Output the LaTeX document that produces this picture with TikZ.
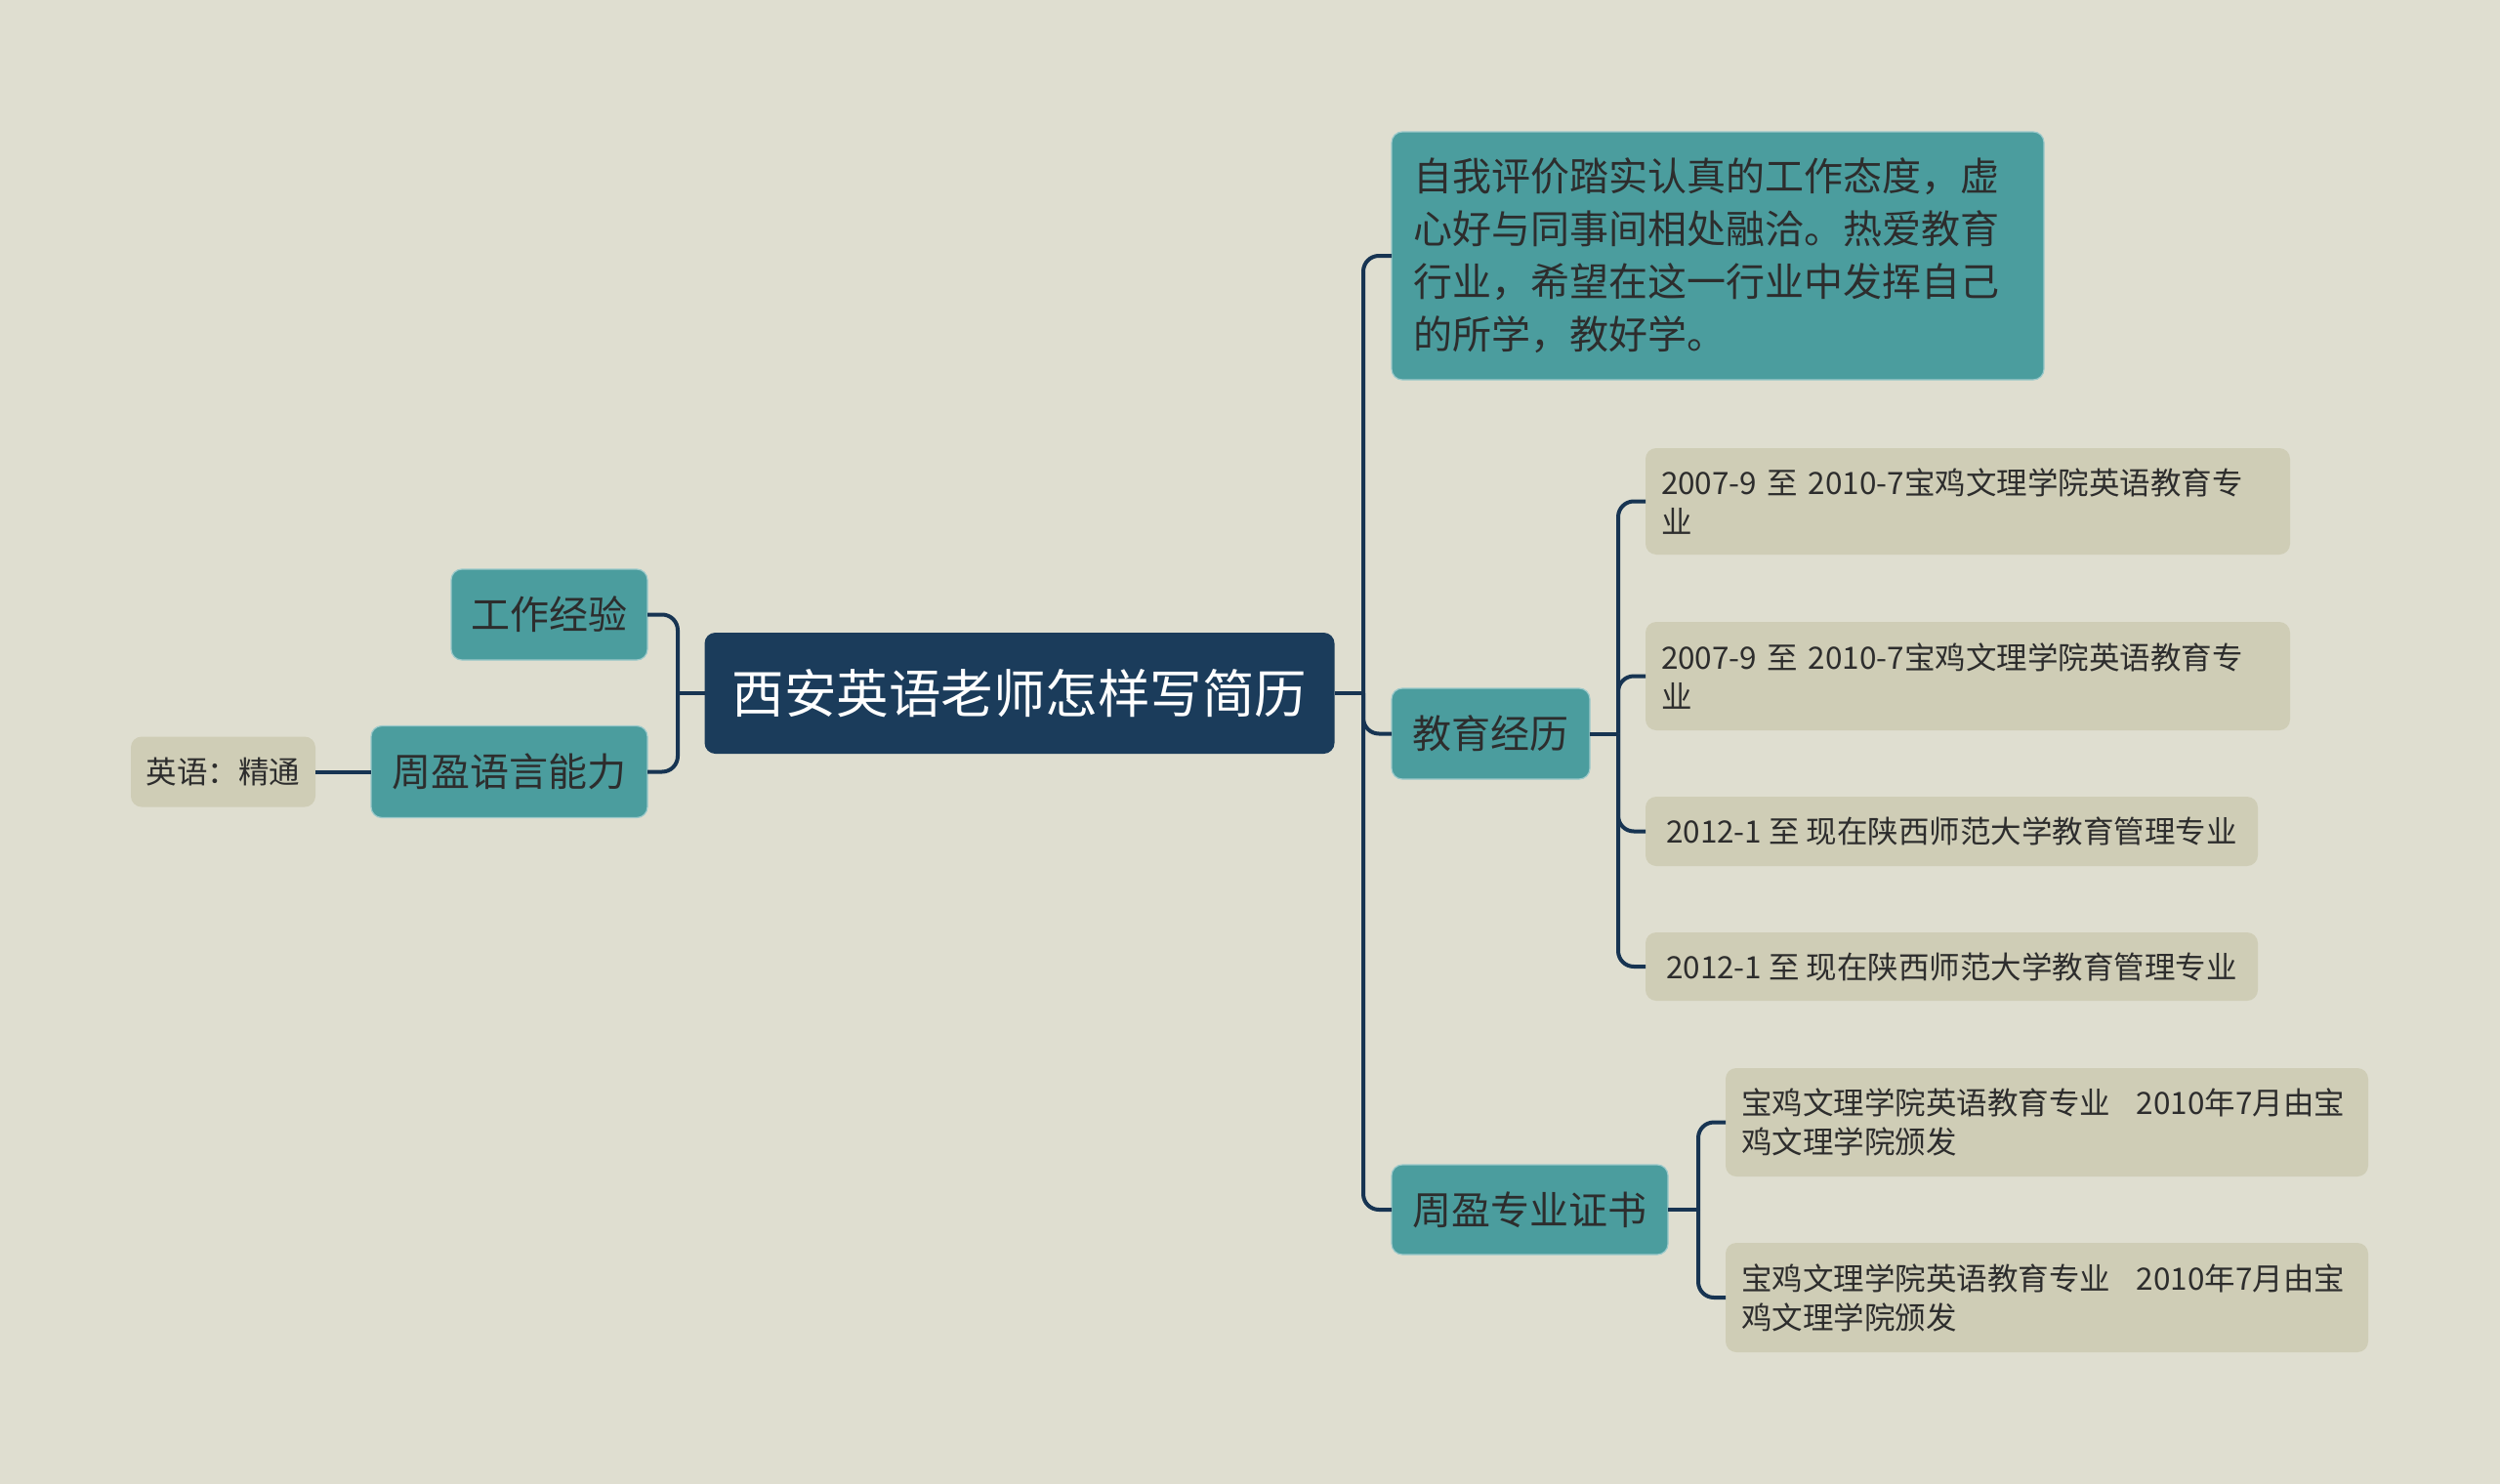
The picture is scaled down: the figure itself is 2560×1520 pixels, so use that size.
\documentclass[tikz,border=0pt]{standalone}
\usepackage{fontspec}
\setmainfont{Noto Sans CJK SC}
\definecolor{bg}{HTML}{DFDED0}
\definecolor{rootc}{HTML}{1B3C5B}
\definecolor{tealc}{HTML}{4B9D9E}
\definecolor{leafc}{HTML}{CFCDB6}
\definecolor{linec}{HTML}{173452}
\definecolor{txt}{HTML}{2D2D2D}
\begin{document}
\begin{tikzpicture}[x=1pt,y=-1pt,
  box/.style={rounded corners=11pt, inner sep=0pt, outer sep=0pt},
  rootbox/.style={box, fill=rootc, text=white, font=\fontsize{53.5}{60}\selectfont, align=center},
  tealbox/.style={box, fill=tealc, draw=tealc!55!white, line width=1.2pt, text=txt, font=\fontsize{40}{54}\selectfont},
  leafbox/.style={box, fill=leafc, text=txt, font=\fontsize{31.5}{40}\selectfont},
  conn/.style={draw=linec, line width=4pt, rounded corners=16pt},
]
\path[fill=bg] (0,0) rectangle (2560,1520);

% root
\node[rootbox, minimum width=645pt, minimum height=124pt] (root) at (1044,710) {西安英语老师怎样写简历};

% left side
\node[tealbox, minimum width=201pt, minimum height=93pt] (gz) at (562.5,629.5) {工作经验};
\node[tealbox, minimum width=283pt, minimum height=94pt] (yy) at (521.5,790.5) {周盈语言能力};
\node[leafbox, minimum width=189pt, minimum height=72pt] (jt) at (228.5,790.5) {英语：精通};

% right side level 1
\node[tealbox, minimum height=254pt, text width=624pt, inner xsep=22pt, align=left] (self) at (1759,262)
  {\mbox{自我评价踏实认真的工作态度，虚}\\\mbox{心好与同事间相处融洽。热爱教育}\\\mbox{行业，希望在这一行业中发挥自己}\\\mbox{的所学，教好学。}};
\node[tealbox, minimum width=203pt, minimum height=93pt] (edu) at (1526.5,751.5) {教育经历};
\node[tealbox, minimum width=283pt, minimum height=92pt] (cert) at (1566.5,1239) {周盈专业证书};

% education leaves
\node[leafbox, minimum height=109pt, text width=628pt, inner xsep=16pt, align=left] (e1) at (2015,513.5)
  {\mbox{2007-9 至 2010-7宝鸡文理学院英语教育专}\\\mbox{业}};
\node[leafbox, minimum height=111pt, text width=628pt, inner xsep=16pt, align=left] (e2) at (2015,692.5)
  {\mbox{2007-9 至 2010-7宝鸡文理学院英语教育专}\\\mbox{业}};
\node[leafbox, minimum width=627pt, minimum height=71pt] (e3) at (1998.5,851.5) {2012-1 至 现在陕西师范大学教育管理专业};
\node[leafbox, minimum width=627pt, minimum height=70pt] (e4) at (1998.5,990) {2012-1 至 现在陕西师范大学教育管理专业};

% certificate leaves
\node[leafbox, minimum height=111pt, text width=626pt, inner xsep=16pt, align=left] (c1) at (2096,1149.5)
  {\mbox{宝鸡文理学院英语教育专业\hspace{0.85em}2010年7月由宝}\\\mbox{鸡文理学院颁发}};
\node[leafbox, minimum height=112pt, text width=626pt, inner xsep=16pt, align=left] (c2) at (2096,1329)
  {\mbox{宝鸡文理学院英语教育专业\hspace{0.85em}2010年7月由宝}\\\mbox{鸡文理学院颁发}};

% connectors: left
\coordinate (lj) at (694,710);
\draw[conn] (root.west) -- (lj);
\draw[conn] (lj) |- (gz.east);
\draw[conn] (lj) |- (yy.east);
\draw[conn] (jt.east) -- (yy.west);

% connectors: right
\coordinate (rj) at (1396,710);
\draw[conn] (root.east) -- (rj);
\draw[conn] (rj) |- (self.west);
\draw[conn] (rj) |- (edu.west);
\draw[conn] (rj) |- (cert.west);

\coordinate (ej) at (1657,751.5);
\draw[conn] (edu.east) -- (ej);
\draw[conn] (ej) |- (e1.west);
\draw[conn] (ej) |- (e2.west);
\draw[conn] (ej) |- (e3.west);
\draw[conn] (ej) |- (e4.west);

\coordinate (cj) at (1739,1239);
\draw[conn] (cert.east) -- (cj);
\draw[conn] (cj) |- (c1.west);
\draw[conn] (cj) |- (c2.west);
\end{tikzpicture}
\end{document}
